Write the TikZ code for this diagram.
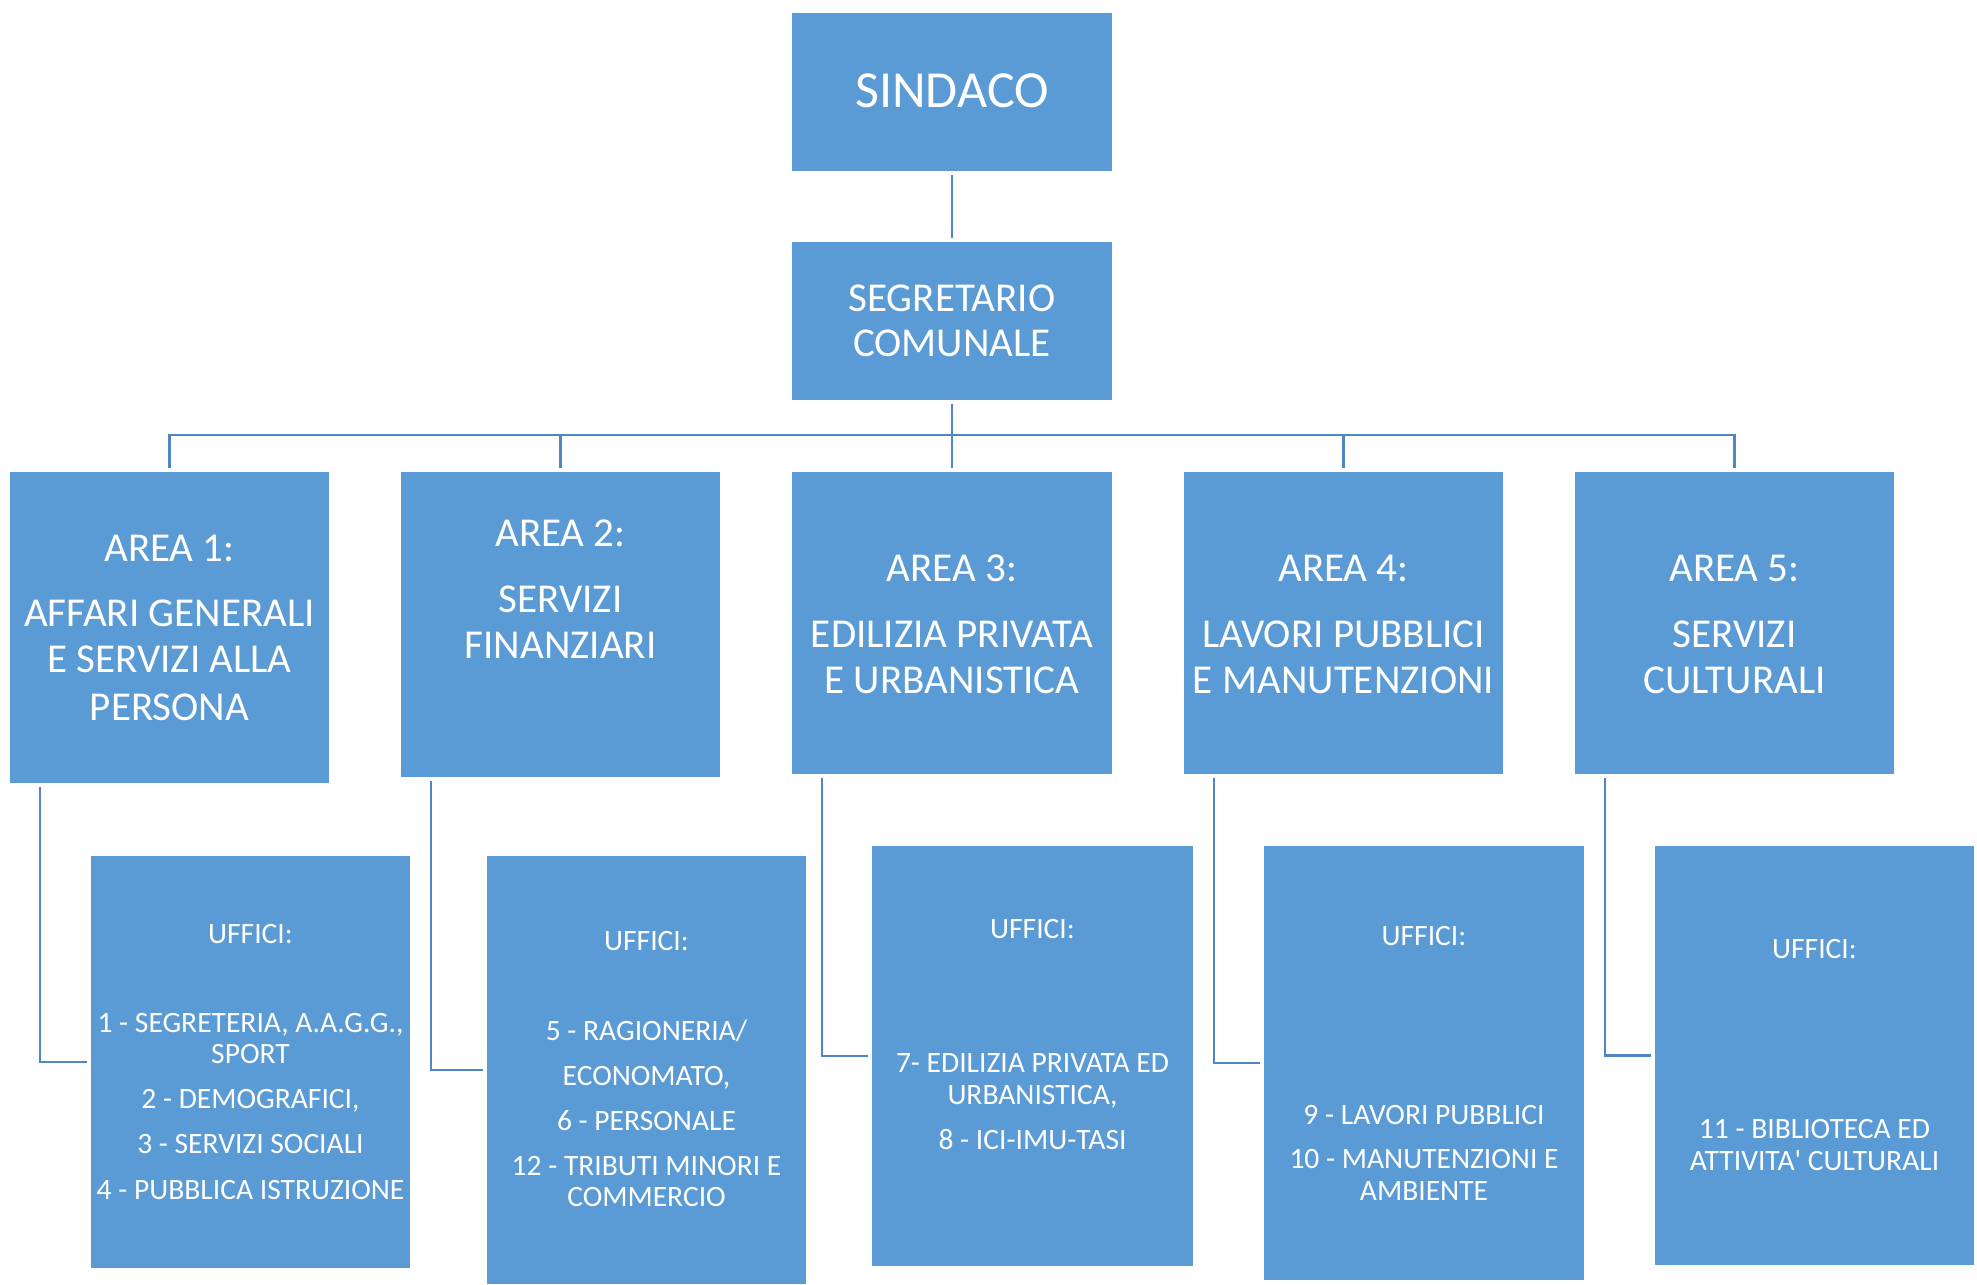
\documentclass[tikz,border=0pt]{standalone}
\usepackage{fontspec}
\setmainfont{Carlito}[Ligatures=TeXOff]
\definecolor{boxblue}{HTML}{5B9BD5}
\definecolor{lineblue}{HTML}{4F86C6}
\begin{document}
\begin{tikzpicture}[x=0.01cm, y=-0.01cm,
  box/.style n args={2}{fill=boxblue, draw=none, inner sep=0pt, outer sep=0pt, minimum width=#1, minimum height=#2},
  txt/.style={text=white, anchor=base, inner sep=0pt, outer sep=0pt},
  bigtxt/.style={txt, font=\fontsize{14.8}{17}\selectfont},
  midtxt/.style={txt, font=\fontsize{11.67}{14}\selectfont},
  smalltxt/.style={txt, font=\fontsize{8.4}{10}\selectfont},
  conn/.style={draw=lineblue, line width=0.8pt, shorten <=0.04cm, shorten >=0.035cm}]
\useasboundingbox (0,0) rectangle (1977,1284);

% boxes
\node[box={3.20cm}{1.58cm}] (sindaco) at (952,92) {};
\node[box={3.20cm}{1.58cm}] (seg) at (952,321) {};
\node[box={3.19cm}{3.11cm}] (a1) at (169.5,627.5) {};
\node[box={3.19cm}{3.05cm}] (a2) at (560.5,624.5) {};
\node[box={3.20cm}{3.02cm}] (a3) at (952,623) {};
\node[box={3.19cm}{3.02cm}] (a4) at (1343.5,623) {};
\node[box={3.19cm}{3.02cm}] (a5) at (1734.5,623) {};
\node[box={3.19cm}{4.12cm}] (u1) at (250.5,1062) {};
\node[box={3.19cm}{4.28cm}] (u2) at (646.5,1070) {};
\node[box={3.21cm}{4.20cm}] (u3) at (1032.5,1056) {};
\node[box={3.20cm}{4.34cm}] (u4) at (1424,1063) {};
\node[box={3.19cm}{4.19cm}] (u5) at (1814.5,1055.5) {};

% connectors
\draw[conn] (sindaco) -- (seg);
\foreach \a in {a1,a2,a3,a4,a5}
  \draw[conn] (seg.south) -- ++(0,35) -| (\a.north);
\foreach \a/\u in {a1/u1,a2/u2,a3/u3,a4/u4,a5/u5}
  \draw[conn] ([xshift=0.30cm]\a.south west) |- (\u.west);

% texts
\node[bigtxt] (tsin) at (952,107) {SINDACO};
\node[midtxt] (tseg1) at (952,311) {SEGRETARIO};
\node[midtxt] (tseg2) at (952,356) {COMUNALE};

\node[midtxt] (ta1a) at (169.5,561) {AREA 1:};
\node[midtxt] (ta1b) at (169.5,626) {AFFARI GENERALI};
\node[midtxt] (ta1c) at (169.5,672) {E SERVIZI ALLA};
\node[midtxt] (ta1d) at (169.5,720) {PERSONA};

\node[midtxt] (ta2a) at (560.5,546) {AREA 2:};
\node[midtxt] (ta2b) at (560.5,612) {SERVIZI};
\node[midtxt] (ta2c) at (560.5,658) {FINANZIARI};

\node[midtxt] (ta3a) at (952,581) {AREA 3:};
\node[midtxt] (ta3b) at (952,647) {EDILIZIA PRIVATA};
\node[midtxt] (ta3c) at (952,693) {E URBANISTICA};

\node[midtxt] (ta4a) at (1343.5,581) {AREA 4:};
\node[midtxt] (ta4b) at (1343.5,647) {LAVORI PUBBLICI};
\node[midtxt] (ta4c) at (1343.5,693) {E MANUTENZIONI};

\node[midtxt] (ta5a) at (1734.5,581) {AREA 5:};
\node[midtxt] (ta5b) at (1734.5,647) {SERVIZI};
\node[midtxt] (ta5c) at (1734.5,693) {CULTURALI};

\node[smalltxt] (tu1a) at (250.5,943) {UFFICI:};
\node[smalltxt] (tu1b) at (250.5,1032) {1 - SEGRETERIA, A.A.G.G.,};
\node[smalltxt] (tu1c) at (250.5,1063) {SPORT};
\node[smalltxt] (tu1d) at (250.5,1108) {2 - DEMOGRAFICI,};
\node[smalltxt] (tu1e) at (250.5,1153) {3 - SERVIZI SOCIALI};
\node[smalltxt] (tu1f) at (250.5,1199) {4 - PUBBLICA ISTRUZIONE};

\node[smalltxt] (tu2a) at (646.5,950) {UFFICI:};
\node[smalltxt] (tu2b) at (646.5,1040) {5 - RAGIONERIA/};
\node[smalltxt] (tu2c) at (646.5,1085) {ECONOMATO,};
\node[smalltxt] (tu2d) at (646.5,1130) {6 - PERSONALE};
\node[smalltxt] (tu2e) at (646.5,1175) {12 - TRIBUTI MINORI E};
\node[smalltxt] (tu2f) at (646.5,1206) {COMMERCIO};

\node[smalltxt] (tu3a) at (1032.5,938) {UFFICI:};
\node[smalltxt] (tu3b) at (1032.5,1072) {7- EDILIZIA PRIVATA ED};
\node[smalltxt] (tu3c) at (1032.5,1104) {URBANISTICA,};
\node[smalltxt] (tu3d) at (1032.5,1149) {8 - ICI-IMU-TASI};

\node[smalltxt] (tu4a) at (1424,945) {UFFICI:};
\node[smalltxt] (tu4b) at (1424,1124) {9 - LAVORI PUBBLICI};
\node[smalltxt] (tu4c) at (1424,1168) {10 - MANUTENZIONI E};
\node[smalltxt] (tu4d) at (1424,1200) {AMBIENTE};

\node[smalltxt] (tu5a) at (1814.5,958) {UFFICI:};
\node[smalltxt] (tu5b) at (1814.5,1138) {11 - BIBLIOTECA ED};
\node[smalltxt] (tu5c) at (1814.5,1170) {ATTIVITA' CULTURALI};
\end{tikzpicture}
\end{document}
